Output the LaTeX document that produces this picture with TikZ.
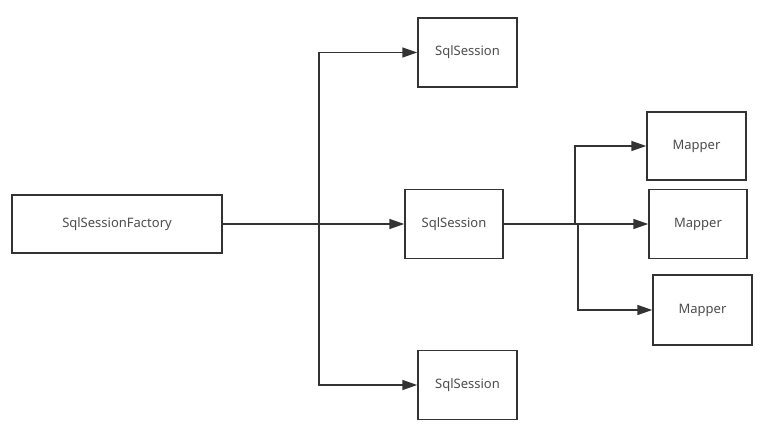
\documentclass[tikz,border=0pt]{standalone}
\usepackage{fontspec}
\setmainfont{Noto Sans}
\usetikzlibrary{arrows.meta,positioning}
\definecolor{linegray}{HTML}{333333}
\definecolor{textgray}{HTML}{4D4D4D}
\tikzset{
  obj_box/.style={draw=linegray,line width=1.5pt,fill=white,inner sep=0pt,
    font=\fontsize{13}{15}\selectfont\color{textgray},align=center},
  arr/.style={-{Triangle[length=15pt,width=10pt]},draw=linegray,line width=1.5pt},
}

\begin{document}
\begin{tikzpicture}[x=1pt,y=-1pt]
  \useasboundingbox[fill=white] (0,0) rectangle (773,444);

  \node[obj_box,minimum width=210pt,minimum height=58pt] (factory) at (117,224) {SqlSessionFactory};
  \node[obj_box,minimum width=99pt,minimum height=69pt] (sess_top) at (467.5,52.5) {SqlSession};
  \node[obj_box,minimum width=98pt,minimum height=69pt] (sess_mid) at (454,224) {SqlSession};
  \node[obj_box,minimum width=99pt,minimum height=69pt] (sess_bot) at (467.5,385) {SqlSession};
  \node[obj_box,minimum width=99pt,minimum height=68pt] (mapper_a) at (696.5,146) {Mapper};
  \node[obj_box,minimum width=98pt,minimum height=69pt] (mapper_b) at (698,224) {Mapper};
  \node[obj_box,minimum width=99pt,minimum height=70pt] (mapper_c) at (702.5,310) {Mapper};

  \coordinate (split) at (319,224);
  \coordinate (split_a) at (575,224);
  \coordinate (split_c) at (578,224);

  \draw[arr] (factory) -- (sess_mid);
  \draw[arr] (split) |- (sess_top);
  \draw[arr] (split) |- (sess_bot);
  \draw[arr] (sess_mid) -- (mapper_b);
  \draw[arr] (split_a) |- (mapper_a);
  \draw[arr] (split_c) |- (mapper_c);
\end{tikzpicture}
\end{document}
